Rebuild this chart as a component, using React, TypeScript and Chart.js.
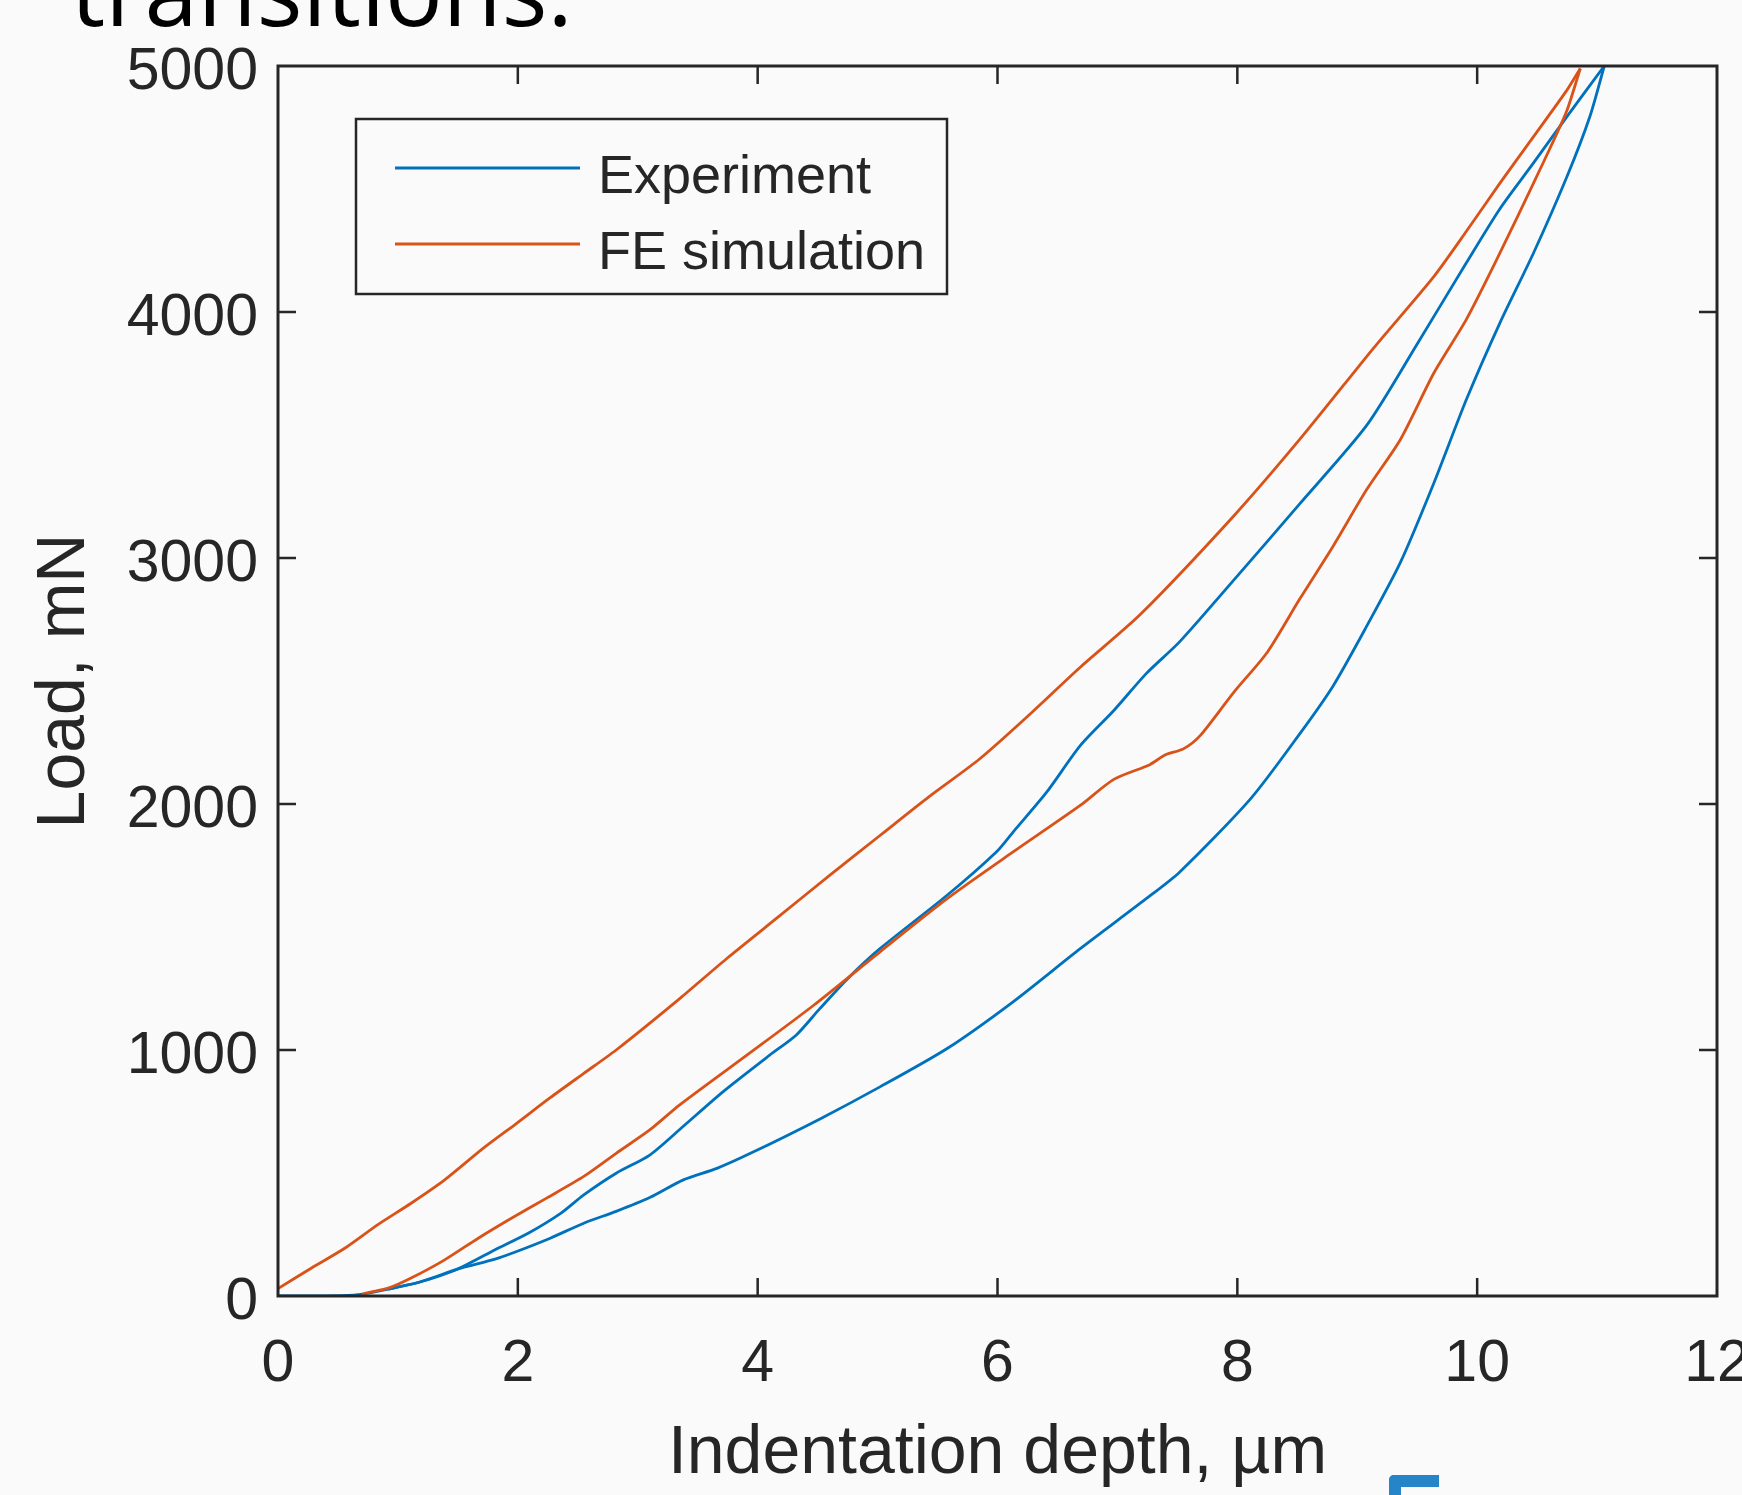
import React, { useEffect, useRef } from "react";
import { Chart, registerables } from "chart.js";

Chart.register(...registerables);

// ---- data ----
const expLoadingDepth = [0, 0.35, 0.65, 0.92, 1.19, 1.5, 1.81, 2.09, 2.36, 2.55, 2.82, 3.1, 3.38, 3.71, 4.1, 4.32, 4.52, 4.75, 5.02, 5.58, 5.99, 6.13, 6.41, 6.69, 6.97, 7.24, 7.52, 7.97, 8.52, 9.08, 9.5, 9.91, 10.19, 10.47, 10.75, 11.06];
const expLoadingLoad = [0, 0, 4, 28, 58, 110, 188, 256, 337, 411, 499, 573, 690, 830, 979, 1060, 1169, 1290, 1412, 1629, 1805, 1886, 2048, 2237, 2380, 2530, 2660, 2910, 3220, 3540, 3870, 4200, 4420, 4606, 4795, 5000];

const expUnloadingDepth = [11.06, 10.94, 10.75, 10.47, 10.19, 9.91, 9.64, 9.36, 9.08, 8.8, 8.52, 8.11, 7.52, 7.24, 6.69, 6.13, 5.58, 5.02, 4.52, 3.94, 3.66, 3.38, 3.1, 2.82, 2.55, 2.27, 1.99, 1.81, 1.5, 1.19, 0.92];
const expUnloadingLoad = [5000, 4795, 4552, 4240, 3956, 3644, 3306, 2982, 2724, 2481, 2285, 2021, 1724, 1615, 1412, 1196, 1006, 850, 720, 580, 519, 472, 400, 344, 296, 235, 181, 150, 110, 58, 28];

const feLoadingDepth = [0, 0.28, 0.56, 0.83, 1.11, 1.39, 1.71, 1.99, 2.27, 2.55, 2.82, 3.35, 3.75, 4.19, 4.6, 5.02, 5.43, 5.85, 6.27, 6.69, 7.19, 7.97, 8.52, 9.08, 9.22, 9.64, 9.91, 10.19, 10.47, 10.75, 10.86];
const feLoadingLoad = [30, 114, 195, 289, 377, 472, 600, 702, 806, 905, 1000, 1209, 1375, 1548, 1710, 1872, 2030, 2183, 2365, 2556, 2770, 3171, 3482, 3820, 3902, 4145, 4328, 4524, 4713, 4903, 4990];

const feUnloadingDepth = [10.86, 10.75, 10.64, 10.47, 10.19, 9.91, 9.64, 9.36, 9.08, 8.8, 8.52, 8.25, 7.97, 7.69, 7.55, 7.4, 7.27, 6.97, 6.69, 6.13, 5.58, 5.02, 4.47, 3.91, 3.35, 3.1, 2.82, 2.55, 2.24, 1.95, 1.67, 1.39, 1.11, 0.92, 0.72, 0.7];
const feUnloadingLoad = [4990, 4821, 4700, 4524, 4240, 3970, 3753, 3482, 3279, 3049, 2833, 2617, 2454, 2278, 2224, 2200, 2160, 2100, 1994, 1805, 1615, 1399, 1183, 979, 777, 675, 580, 486, 398, 317, 235, 147, 73, 32, 10, 0];

const seriesLabels = ["Experiment", "FE simulation"];
const seriesColors = ["#0072BD", "#D95319"];

const xRange = [0, 12];
const xStep = 2;
const yRange = [0, 5000];
const yStep = 1000;

const xTitle = "Indentation depth, µm";
const yTitle = "Load, mN";
const headingText = "transitions:";

// ---- styles ----
const BG = "#fafafa";
const AXIS = "#262626";
const FONT = "'Liberation Sans', Arial, sans-serif";
const LINE_W = 2.8;

function toPoints(xs: number[], ys: number[]) {
  return xs.map((x, i) => ({ x, y: ys[i] }));
}

function lineDataset(label: string, color: string, xs: number[], ys: number[], order: number) {
  return {
    label,
    data: toPoints(xs, ys),
    showLine: true,
    borderColor: color,
    backgroundColor: color,
    borderWidth: LINE_W,
    pointRadius: 0,
    tension: 0.25,
    order,
  };
}

export default function App() {
  const ref = useRef<HTMLCanvasElement | null>(null);

  useEffect(() => {
    if (!ref.current) return;

    const boxPlugin = {
      id: "matlabBox",
      afterDatasetsDraw(chart: any) {
        const { ctx, chartArea: a, scales } = chart;
        const xs = scales.x;
        const ys = scales.y;
        ctx.save();
        ctx.strokeStyle = AXIS;
        ctx.lineWidth = 2.5;
        const TL = 18;
        ctx.beginPath();
        xs.ticks.forEach((t: any) => {
          const px = xs.getPixelForValue(t.value);
          if (px <= a.left + 1 || px >= a.right - 1) return;
          ctx.moveTo(px, a.bottom);
          ctx.lineTo(px, a.bottom - TL);
          ctx.moveTo(px, a.top);
          ctx.lineTo(px, a.top + TL);
        });
        ys.ticks.forEach((t: any) => {
          const py = ys.getPixelForValue(t.value);
          if (py <= a.top + 1 || py >= a.bottom - 1) return;
          ctx.moveTo(a.left, py);
          ctx.lineTo(a.left + TL, py);
          ctx.moveTo(a.right, py);
          ctx.lineTo(a.right - TL, py);
        });
        ctx.stroke();
        ctx.lineWidth = 3;
        ctx.strokeRect(a.left, a.top, a.right - a.left, a.bottom - a.top);

        // legend
        const lx = a.left + 78;
        const ly = a.top + 53;
        const lw = 591;
        const lh = 175;
        ctx.fillStyle = BG;
        ctx.fillRect(lx, ly, lw, lh);
        ctx.lineWidth = 2.5;
        ctx.strokeStyle = AXIS;
        ctx.strokeRect(lx, ly, lw, lh);
        seriesLabels.forEach((label, i) => {
          const rowY = ly + 49 + i * 76;
          ctx.strokeStyle = seriesColors[i];
          ctx.lineWidth = LINE_W;
          ctx.beginPath();
          ctx.moveTo(lx + 39, rowY);
          ctx.lineTo(lx + 224, rowY);
          ctx.stroke();
          ctx.fillStyle = AXIS;
          ctx.font = `54px ${FONT}`;
          ctx.textBaseline = "alphabetic";
          ctx.textAlign = "left";
          ctx.fillText(label, lx + 242, rowY + 25);
        });
        ctx.restore();
      },
    };

    const chart = new Chart(ref.current, {
      type: "scatter",
      data: {
        datasets: [
          lineDataset(seriesLabels[0], seriesColors[0], expLoadingDepth, expLoadingLoad, 1),
          lineDataset(seriesLabels[0], seriesColors[0], expUnloadingDepth, expUnloadingLoad, 1),
          lineDataset(seriesLabels[1], seriesColors[1], feLoadingDepth, feLoadingLoad, 0),
          lineDataset(seriesLabels[1], seriesColors[1], feUnloadingDepth, feUnloadingLoad, 0),
        ],
      },
      options: {
        responsive: false,
        maintainAspectRatio: false,
        animation: false,
        events: [],
        layout: { padding: { top: 66, right: 25, left: 0, bottom: 0 } },
        plugins: {
          legend: { display: false },
          tooltip: { enabled: false },
        },
        scales: {
          x: {
            type: "linear",
            position: "bottom",
            min: xRange[0],
            max: xRange[1],
            grid: { display: false, drawTicks: false },
            border: { display: false },
            ticks: {
              stepSize: xStep,
              padding: 33,
              color: AXIS,
              maxRotation: 0,
              autoSkip: false,
              font: { family: FONT, size: 59 },
              callback: (v: any) => String(v),
            },
            title: {
              display: true,
              text: xTitle,
              color: AXIS,
              font: { family: FONT, size: 68 },
              padding: { top: 0, bottom: 0 },
            },
            afterFit: (s: any) => {
              s.height = 199;
              s.paddingLeft = 0;
              s.paddingRight = 0;
            },
          },
          y: {
            type: "linear",
            position: "left",
            min: yRange[0],
            max: yRange[1],
            grid: { display: false, drawTicks: false },
            border: { display: false },
            ticks: {
              stepSize: yStep,
              padding: 20,
              labelOffset: 7,
              color: AXIS,
              font: { family: FONT, size: 59 },
              callback: (v: any) => String(v),
            },
            title: {
              display: true,
              text: yTitle,
              color: AXIS,
              font: { family: FONT, size: 68 },
              padding: { top: 24, bottom: 0 },
            },
            afterFit: (s: any) => {
              s.width = 278;
              s.paddingTop = 0;
              s.paddingBottom = 0;
            },
          },
        },
      },
      plugins: [boxPlugin],
    });

    return () => chart.destroy();
  }, []);

  return (
    <div
      style={{
        position: "fixed",
        left: 0,
        top: 0,
        width: 1742,
        height: 1495,
        overflow: "hidden",
        background: BG,
      }}
    >
      <canvas
        ref={ref}
        width={1742}
        height={1495}
        style={{ position: "absolute", left: 0, top: 0, width: 1742, height: 1495 }}
      />
      <div
        style={{
          position: "absolute",
          left: 71,
          top: -59,
          fontFamily: "'Open Sans', 'Noto Sans', sans-serif",
          fontSize: 96,
          lineHeight: "96px",
          color: "#000",
          whiteSpace: "nowrap",
        }}
      >
        {headingText}
      </div>
      <div
        style={{
          position: "absolute",
          left: 1389,
          top: 1475,
          width: 50,
          height: 30,
          boxSizing: "border-box",
          borderTop: "12px solid #2585c8",
          borderLeft: "12px solid #2585c8",
          borderTopLeftRadius: 5,
        }}
      />
    </div>
  );
}
